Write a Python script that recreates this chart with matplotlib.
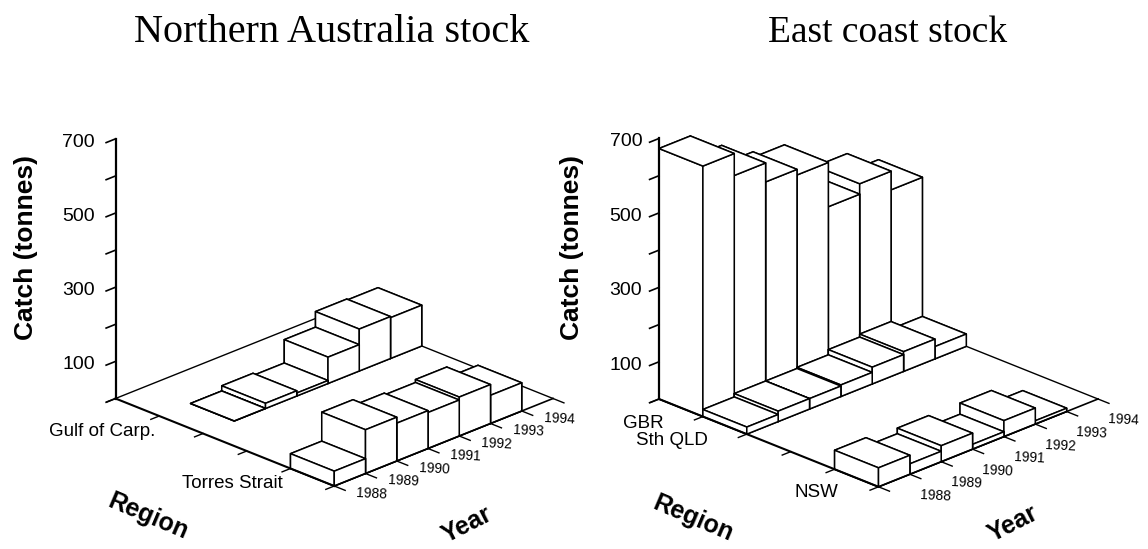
import numpy as np
import matplotlib
matplotlib.use('Agg')
import matplotlib.pyplot as plt
from mpl_toolkits.mplot3d import proj3d

plt.rcParams['font.family'] = ['Liberation Sans', 'DejaVu Sans']

W, H = 1148, 549

years = ['1988', '1989', '1990', '1991', '1992', '1993', '1994']
z_labels = [100, 300, 500, 700]
nan = float('nan')

# tonnes per year, nan = no bar drawn
gulf = [nan, 0, 14, 8, 71, 113, 110]
torres = [40, 118, 102, 97, 105, 76, nan]
gbr = [673, 614, 563, 548, 429, 457, 407]
sth_qld = [19, 28, 28, 31, 45, 53, 33]
nsw = [51, 28, 43, 13, 43, 9, nan]

left_rows = [(1, 'Gulf of Carp.', gulf), (4, 'Torres Strait', torres)]
right_rows = [(0, 'GBR', gbr), (1, 'Sth QLD', sth_qld), (4, 'NSW', nsw)]

fig = plt.figure(figsize=(W / 100, H / 100), dpi=100)


def to_px(ax, x, y, z):
    X, Y, _ = proj3d.proj_transform(x, y, z, ax.get_proj())
    return ax.transData.transform((X, Y))


def place(ax, ox, oy, width):
    # move the 3d box so that the corner of the floor falls on (ox, oy)
    side = 600.0
    ax.set_position([0.1, 0.1, side / W, side / H])
    fig.canvas.draw()
    a = to_px(ax, 0, 0, 0)
    b = to_px(ax, 5, 7, 0)
    side = side * width / (b[0] - a[0])
    ax.set_position([0.1, 0.1, side / W, side / H])
    fig.canvas.draw()
    a = to_px(ax, 0, 0, 0)
    ax.set_position([0.1 + (ox - a[0]) / W, 0.1 + (H - oy - a[1]) / H, side / W, side / H])
    fig.canvas.draw()


def label(ax, x, y, z, dx, dy, s, **kw):
    # text next to a point of the 3d box, offset in pixels (dy down)
    p = to_px(ax, x, y, z)
    fig.text((p[0] + dx) / W, (p[1] - dy) / H, s, ha='center', va='center', **kw)


def panel(rows, ox, oy, width, z_off, name_offs, year_off):
    ax = fig.add_subplot(projection='3d', proj_type='ortho', computed_zorder=False)
    ax.set_axis_off()
    ax.patch.set_alpha(0)
    ax.view_init(elev=23.58, azim=-45)
    ax.set_box_aspect((311, 311, 284.8))
    ax.set_xlim(0, 5, view_margin=0)
    ax.set_ylim(0, 7, view_margin=0)
    ax.set_zlim(0, 700, view_margin=0)

    # floor
    ax.plot([0, 0], [0, 7], [0, 0], color='k', lw=1.0, zorder=0.5)
    ax.plot([0, 5], [7, 7], [0, 0], color='k', lw=1.0, zorder=0.5)

    # bars, back to front
    for a, name, vals in rows:
        for k in range(len(years) - 1, -1, -1):
            if np.isnan(vals[k]):
                continue
            b = ax.bar3d(a, k, 0, 1, 1, vals[k], color='white', edgecolor='k',
                         linewidth=1.1, shade=False)
            b.set_zorder(1)

    # axes
    ax.plot([0, 0], [0, 0], [0, 700], color='k', lw=1.6, zorder=3)
    ax.plot([0, 5], [0, 0], [0, 0], color='k', lw=1.5, zorder=3)
    ax.plot([5, 5], [0, 7], [0, 0], color='k', lw=1.2, zorder=3)
    for t in range(0, 701, 100):
        ax.plot([0, 0], [0, -0.3], [t, t], color='k', lw=1.2, zorder=3)
    for a in range(6):
        ax.plot([a, a], [0, -0.27], [0, 0], color='k', lw=1.0, zorder=3)
    for k in range(8):
        ax.plot([5, 5.25], [k, k], [0, 0], color='k', lw=1.0, zorder=3)

    place(ax, ox, oy, width)

    for t in z_labels:
        label(ax, 0, 0, t, z_off, 3.5, str(t), fontsize=14)
    for (a, name, vals), (dx, dy) in zip(rows, name_offs):
        label(ax, a + 0.5, 0, 0, dx, dy, name, fontsize=13.5)
    for k, y in enumerate(years):
        label(ax, 5, k + 0.5, 0, year_off[0], year_off[1], y, fontsize=10, rotation=-3)
    return ax


panel(left_rows, 115.5, 398.5, 437.5, -37, [(-79, 7), (-80, 6)], (22, 14))
panel(right_rows, 659, 399, 439, -33, [(-38, 16), (-53, 15), (-40, 14)], (41, 15))

for x, size, title in [(332, 29, 'Northern Australia stock'), (888, 27, 'East coast stock')]:
    fig.text(x / W, 1 - 33 / H, title, family=['Liberation Serif'], fontsize=size,
             ha='center', va='center')
for x in [26, 572]:
    fig.text(x / W, 1 - 247 / H, 'Catch (tonnes)', fontsize=19, fontweight='bold',
             rotation=90, ha='center', va='center')
for x, y in [(148, 517), (693, 519)]:
    fig.text(x / W, 1 - y / H, 'Region', fontsize=18, fontweight='bold',
             rotation=-23, ha='center', va='center')
for x, y in [(467, 525), (1013, 524)]:
    fig.text(x / W, 1 - y / H, 'Year', fontsize=18, fontweight='bold', rotation=27,
             ha='center', va='center')

fig.savefig('out.png', dpi=100)
